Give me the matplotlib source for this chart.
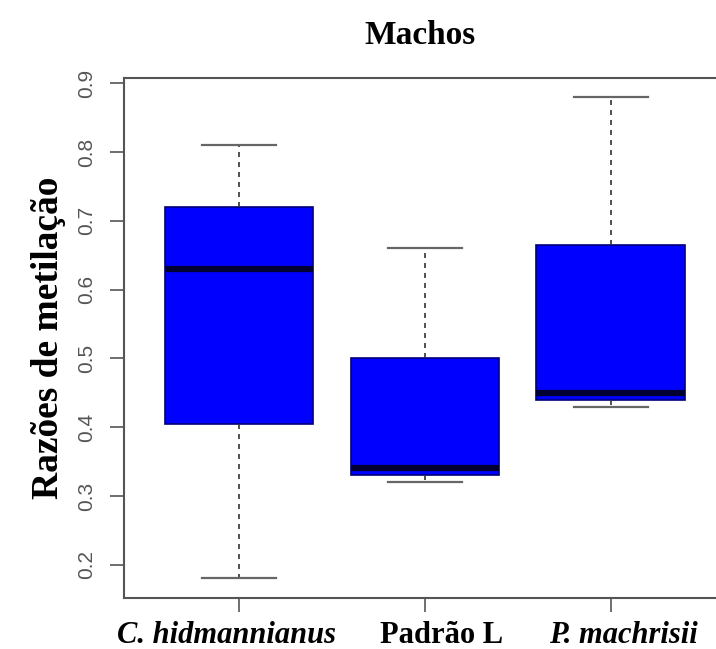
import matplotlib
matplotlib.use('Agg')
import matplotlib.pyplot as plt

# box statistics
groups = ['C. hidmannianus', 'Padrão L', 'P. machrisii']
label_styles = ['italic', 'normal', 'italic']
label_shift = [-0.07, 0.09, 0.07]   # labels sit a little off their ticks in the original
whisker_low = [0.18, 0.32, 0.43]
q1 = [0.405, 0.33, 0.44]
medians = [0.63, 0.34, 0.45]
q3 = [0.72, 0.50, 0.665]
whisker_high = [0.81, 0.66, 0.88]
yticks = [0.2, 0.3, 0.4, 0.5, 0.6, 0.7, 0.8, 0.9]

stats = []
for i, name in enumerate(groups):
    stats.append({'label': name, 'whislo': whisker_low[i], 'q1': q1[i],
                  'med': medians[i], 'q3': q3[i], 'whishi': whisker_high[i],
                  'fliers': []})

fig = plt.figure(figsize=(7.16, 6.49), dpi=100)
ax = fig.add_axes([0.173, 0.079, 0.841, 0.801])

ax.bxp(stats, positions=[1, 2, 3], widths=0.8, patch_artist=True, showfliers=False,
       boxprops=dict(facecolor='#0000ff', edgecolor='#00007a', linewidth=1.2),
       medianprops=dict(color='#000033', linewidth=4.5, solid_capstyle='butt'),
       whiskerprops=dict(color='#333333', linestyle=(0, (3, 3)), linewidth=1.2),
       capprops=dict(color='#666666', linewidth=1.6),
       capwidths=0.4)

ax.set_xlim(0.38, 3.62)
ax.set_ylim(0.152, 0.908)
ax.set_yticks(yticks)
ax.set_yticklabels([str(v) for v in yticks], rotation=90, va='center',
                   fontsize=15, color='#555555', family='Liberation Sans')
ax.set_xticks([1, 2, 3])
ax.set_xticklabels([])
for i, name in enumerate(groups):
    ax.text(i + 1 + label_shift[i], -0.045, name, transform=ax.get_xaxis_transform(),
            ha='center', va='top', fontsize=22, fontweight='bold',
            style=label_styles[i], family='Liberation Serif')

ax.tick_params(axis='both', direction='out', length=10, width=1.2, color='#555555')
ax.tick_params(axis='y', pad=10)
for s in ax.spines.values():
    s.set_color('#555555')
    s.set_linewidth(1.5)

ax.set_ylabel('Razões de metilação', fontsize=27, fontweight='bold',
              family='Liberation Serif', labelpad=8)
fig.text(0.586, 0.945, 'Machos', ha='center', va='center', fontsize=24,
         fontweight='bold', family='Liberation Serif')

fig.savefig('out.png', dpi=100)
